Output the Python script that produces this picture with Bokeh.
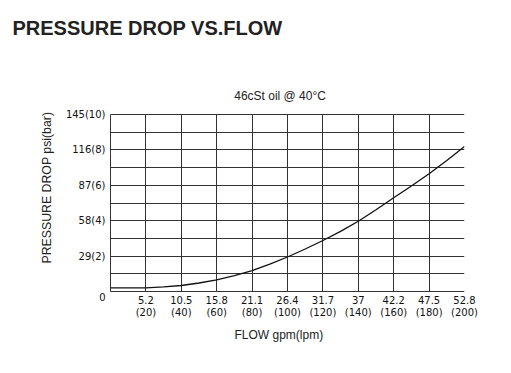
from bokeh.plotting import figure
from bokeh.models import Range1d, FixedTicker, Title, Label
from bokeh.embed import file_html
from bokeh.resources import INLINE

# ---- data ----
flow_lpm = [0, 10, 20, 30, 40, 50, 60, 70, 80, 90, 100, 110, 120, 130, 140, 150, 160, 170, 180, 190, 200]
pressure_bar = [0.21, 0.21, 0.21, 0.26, 0.34, 0.48, 0.66, 0.90, 1.18, 1.55, 1.95, 2.40, 2.88, 3.40, 3.97, 4.62, 5.30, 5.96, 6.65, 7.40, 8.19]

x_tick_lpm = [20, 40, 60, 80, 100, 120, 140, 160, 180, 200]
x_tick_gpm = ["5.2", "10.5", "15.8", "21.1", "26.4", "31.7", "37", "42.2", "47.5", "52.8"]
y_tick_bar = [0, 2, 4, 6, 8, 10]
y_tick_psi = ["0", "29", "58", "87", "116", "145"]

title_text = "PRESSURE DROP VS.FLOW"
subtitle_text = "46cSt oil @ 40°C"
x_label_text = "FLOW gpm(lpm)"
y_label_text = "PRESSURE DROP psi(bar)"

X_MAX, Y_MAX = 200, 10
GRID_W, GRID_H = 354, 177   # pixel size of the gridded area
EXTRA_TOP = 63              # blank room above the grid (holds the subtitle)
PAD = 1                     # 1px of room left of / below the grid box
y_top = Y_MAX * (GRID_H + EXTRA_TOP) / GRID_H

p = figure(frame_width=GRID_W + PAD, frame_height=GRID_H + EXTRA_TOP + PAD,
           min_border_left=110 - PAD, min_border_right=39,
           min_border_top=51, min_border_bottom=74 - PAD,
           x_range=Range1d(-X_MAX * PAD / GRID_W, X_MAX),
           y_range=Range1d(-Y_MAX * PAD / GRID_H, y_top),
           output_backend="svg", toolbar_location=None,
           background_fill_color="white", border_fill_color="white")

p.outline_line_color = None

# grid (also forms the box around the chart)
p.xgrid.ticker = FixedTicker(ticks=list(range(0, X_MAX + 1, 20)))
p.ygrid.ticker = FixedTicker(ticks=list(range(0, Y_MAX + 1, 1)))
p.xgrid.cross_bounds = (0, Y_MAX)
p.ygrid.cross_bounds = (0, X_MAX)
for g in (p.xgrid, p.ygrid):
    g.grid_line_color = "#333333"
    g.grid_line_width = 1
    g.grid_line_alpha = 1.0

# axes
tick_font = "DejaVu Sans"
p.xaxis.ticker = FixedTicker(ticks=x_tick_lpm)
p.xaxis.major_label_overrides = {t: f"{g}\n({t})" for t, g in zip(x_tick_lpm, x_tick_gpm)}
p.yaxis.ticker = FixedTicker(ticks=y_tick_bar)
overrides = {}
for t, s in zip(y_tick_bar, y_tick_psi):
    overrides[t] = "\n0" if t == 0 else f"{s}({t})"
p.yaxis.major_label_overrides = overrides
for ax in (p.xaxis, p.yaxis):
    ax.axis_line_color = None
    ax.major_tick_line_color = None
    ax.minor_tick_line_color = None
    ax.major_tick_out = 0
    ax.major_tick_in = 0
    ax.minor_tick_out = 0
    ax.minor_tick_in = 0
    ax.major_label_text_font = tick_font
    ax.major_label_text_font_size = "10px"
    ax.major_label_text_color = "#111111"
    ax.major_label_text_line_height = 1.1
p.xaxis.major_label_standoff = 2
p.yaxis.major_label_standoff = 4

# curve
p.line(flow_lpm, pressure_bar, line_color="#111111", line_width=1.3)

# subtitle (inside the blank top part of the frame)
p.add_layout(Label(x=95.8, y=11.05, text=subtitle_text,
                   text_align="center", text_baseline="alphabetic",
                   text_font="Liberation Sans", text_font_size="12px",
                   text_color="#222222"))

# title and axis labels
main = Title(text=title_text, align="left", offset=-97, standoff=26,
             text_font="Liberation Sans", text_font_style="bold",
             text_font_size="20px", text_color="#222222")
p.add_layout(main, "above")
ylab = Title(text=y_label_text, align="left", offset=28 + PAD, standoff=18,
             text_font="Liberation Sans", text_font_style="normal",
             text_font_size="12.3px", text_color="#222222")
p.add_layout(ylab, "left")
xlab = Title(text=x_label_text, align="left", offset=124 + PAD, standoff=10,
             text_font="Liberation Sans", text_font_style="normal",
             text_font_size="12px", text_color="#222222")
p.add_layout(xlab, "below")

open("out.html", "w").write(file_html(p, INLINE))
